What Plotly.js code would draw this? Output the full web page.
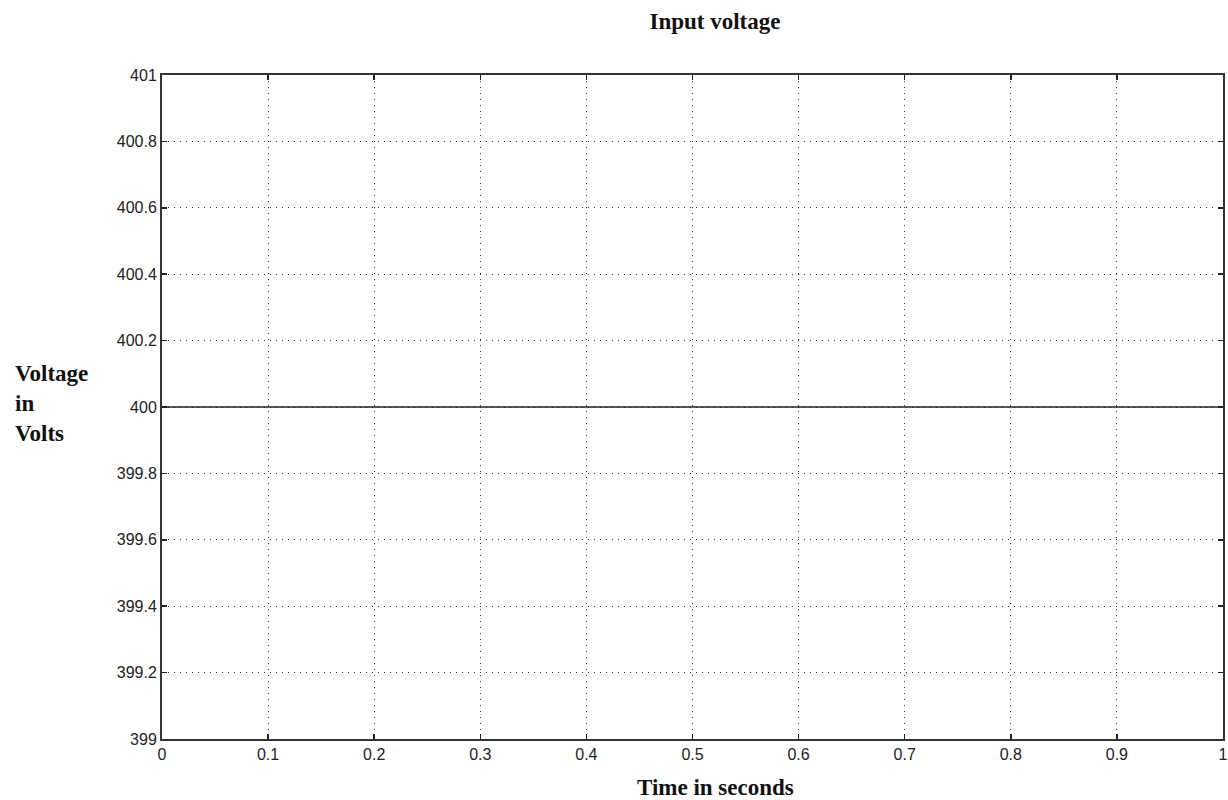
<!DOCTYPE html>
<html>
<head>
<meta charset="utf-8">
<script src="https://cdn.plot.ly/plotly-3.0.1.min.js"></script>
<style>html,body{margin:0;padding:0;background:#fff;}#chart{width:1228px;height:800px;}</style>
</head>
<body>
<div id="chart"></div>
<script>
// Data
const timeSeconds = [0, 1];
const inputVoltage = [400, 400];
const xTickVals = [0, 0.1, 0.2, 0.3, 0.4, 0.5, 0.6, 0.7, 0.8, 0.9, 1];
const xTickText = ["0", "0.1", "0.2", "0.3", "0.4", "0.5", "0.6", "0.7", "0.8", "0.9", "1"];
const yTickVals = [399, 399.2, 399.4, 399.6, 399.8, 400, 400.2, 400.4, 400.6, 400.8, 401];
const yTickText = ["399", "399.2", "399.4", "399.6", "399.8", "400", "400.2", "400.4", "400.6", "400.8", "401"];

const serif = "Liberation Serif, Times New Roman, serif";
const sans = "Liberation Sans Narrow, Liberation Sans, Arial, sans-serif";

const axisCommon = {
  showline: true, linecolor: '#333', linewidth: 2, mirror: 'ticks',
  ticks: 'inside', ticklen: 5, tickwidth: 1.5, tickcolor: '#222',
  showgrid: true, gridcolor: '#333', gridwidth: 1, griddash: '1px,5px',
  zeroline: false, tickmode: 'array',
  tickfont: {family: sans, size: 16, color: '#222'}
};

const trace = {
  x: timeSeconds, y: inputVoltage, type: 'scatter', mode: 'lines',
  line: {color: '#222', width: 1.5}, hoverinfo: 'none'
};

const layout = {
  width: 1228, height: 800,
  paper_bgcolor: '#fff', plot_bgcolor: '#fff',
  margin: {l: 162, r: 5, t: 75, b: 61},
  showlegend: false,
  title: {
    text: '<b>Input voltage</b>', x: 715/1228, xanchor: 'center',
    y: 1 - 21/800, yanchor: 'middle', yref: 'container',
    font: {family: serif, size: 23, color: '#111'}
  },
  xaxis: Object.assign({}, axisCommon, {
    range: [0, 1], tickvals: xTickVals, ticktext: xTickText
  }),
  yaxis: Object.assign({}, axisCommon, {
    range: [399, 401], tickvals: yTickVals, ticktext: yTickText
  }),
  annotations: [
    {
      text: '<b>Time in seconds</b>', xref: 'paper', yref: 'paper',
      x: (715-162)/1061, y: (739-787)/664, xanchor: 'center', yanchor: 'middle',
      showarrow: false, font: {family: serif, size: 23, color: '#111'}
    },
    {
      text: '<b>Voltage<br>in<br>Volts</b>', xref: 'paper', yref: 'paper',
      x: (13-162)/1061, y: (739-403)/664, xanchor: 'left', yanchor: 'middle', align: 'left',
      showarrow: false, font: {family: serif, size: 23, color: '#111'}
    }
  ]
};

Plotly.newPlot('chart', [trace], layout, {staticPlot: true, displayModeBar: false});
</script>
</body>
</html>
